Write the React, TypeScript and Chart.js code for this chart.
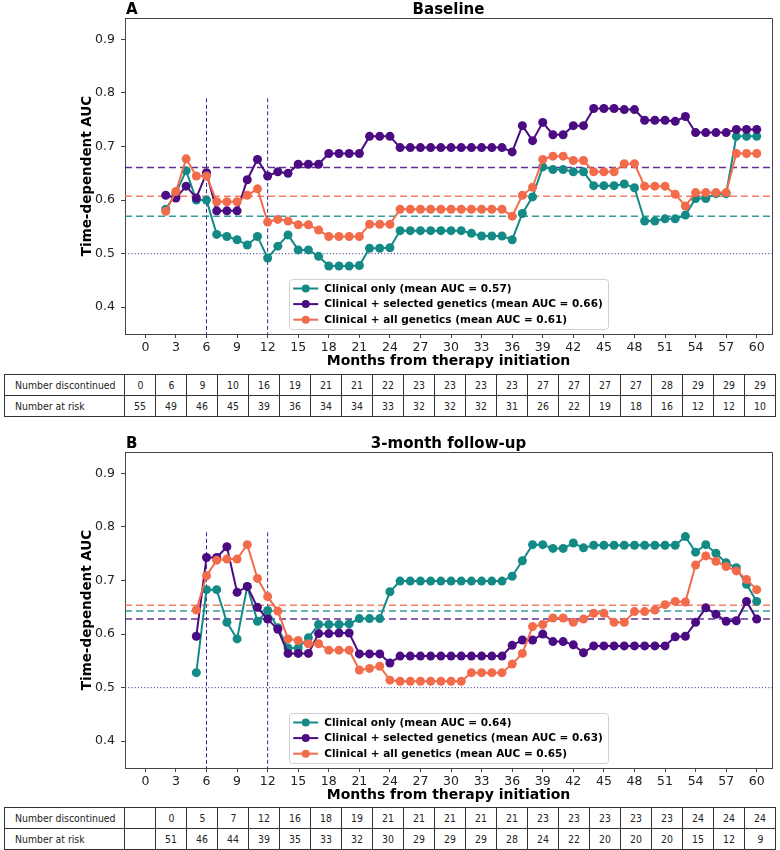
import React, { useEffect, useRef } from "react";
import { Chart, registerables } from "chart.js";
Chart.register(...registerables);

const FONT = "'DejaVu Sans', 'Noto Sans', sans-serif";
const TABLE_FONT = "'DejaVu Sans', sans-serif";

const COLORS = ["#148a87", "#4b0b82", "#f26b4b"];

const xTickLabels = [0, 3, 6, 9, 12, 15, 18, 21, 24, 27, 30, 33, 36, 39, 42, 45, 48, 51, 54, 57, 60];
const yTickLabels = [0.4, 0.5, 0.6, 0.7, 0.8, 0.9];
const milestones = [6, 12];
const milestoneTop = 0.79;
const chanceLevel = 0.5;

// ---------- Panel A: Baseline ----------
const monthsA = [2, 3, 4, 5, 6, 7, 8, 9, 10, 11, 12, 13, 14, 15, 16, 17, 18, 19, 20, 21, 22, 23, 24, 25, 26, 27, 28, 29, 30, 31, 32, 33, 34, 35, 36, 37, 38, 39, 40, 41, 42, 43, 44, 45, 46, 47, 48, 49, 50, 51, 52, 53, 54, 55, 56, 57, 58, 59, 60];
const clinicalA = [0.583, 0.613, 0.655, 0.600, 0.600, 0.536, 0.532, 0.526, 0.516, 0.532, 0.492, 0.514, 0.535, 0.507, 0.507, 0.495, 0.477, 0.477, 0.477, 0.478, 0.510, 0.510, 0.511, 0.543, 0.543, 0.543, 0.543, 0.543, 0.543, 0.543, 0.538, 0.533, 0.533, 0.533, 0.526, 0.575, 0.606, 0.662, 0.657, 0.657, 0.653, 0.653, 0.627, 0.627, 0.627, 0.630, 0.623, 0.561, 0.561, 0.565, 0.565, 0.572, 0.603, 0.603, 0.612, 0.612, 0.719, 0.719, 0.719];
const selectedA = [0.609, 0.604, 0.626, 0.604, 0.651, 0.580, 0.580, 0.580, 0.638, 0.676, 0.645, 0.653, 0.650, 0.667, 0.667, 0.667, 0.687, 0.687, 0.687, 0.687, 0.719, 0.719, 0.719, 0.698, 0.698, 0.698, 0.698, 0.698, 0.698, 0.698, 0.698, 0.698, 0.698, 0.698, 0.690, 0.739, 0.711, 0.745, 0.722, 0.722, 0.739, 0.739, 0.771, 0.771, 0.771, 0.769, 0.769, 0.749, 0.749, 0.749, 0.747, 0.756, 0.726, 0.726, 0.726, 0.726, 0.732, 0.732, 0.732];
const allGenA = [0.579, 0.616, 0.677, 0.645, 0.645, 0.597, 0.597, 0.597, 0.609, 0.621, 0.559, 0.564, 0.561, 0.554, 0.554, 0.544, 0.532, 0.532, 0.532, 0.532, 0.555, 0.555, 0.555, 0.583, 0.583, 0.583, 0.583, 0.583, 0.583, 0.583, 0.583, 0.583, 0.583, 0.583, 0.570, 0.609, 0.624, 0.676, 0.682, 0.682, 0.674, 0.674, 0.653, 0.653, 0.653, 0.668, 0.668, 0.626, 0.626, 0.626, 0.611, 0.589, 0.614, 0.614, 0.614, 0.614, 0.687, 0.687, 0.687];
const meansA = [0.570, 0.661, 0.607];
const labelsA = [
  "Clinical only (mean AUC = 0.57)",
  "Clinical + selected genetics (mean AUC = 0.66)",
  "Clinical + all genetics (mean AUC = 0.61)",
];
const discontinuedA = ["0", "6", "9", "10", "16", "19", "21", "21", "22", "23", "23", "23", "23", "27", "27", "27", "27", "28", "29", "29", "29"];
const atRiskA = ["55", "49", "46", "45", "39", "36", "34", "34", "33", "32", "32", "32", "31", "26", "22", "19", "18", "16", "12", "12", "10"];

// ---------- Panel B: 3-month follow-up ----------
const monthsB = [5, 6, 7, 8, 9, 10, 11, 12, 13, 14, 15, 16, 17, 18, 19, 20, 21, 22, 23, 24, 25, 26, 27, 28, 29, 30, 31, 32, 33, 34, 35, 36, 37, 38, 39, 40, 41, 42, 43, 44, 45, 46, 47, 48, 49, 50, 51, 52, 53, 54, 55, 56, 57, 58, 59, 60];
const clinicalB = [0.528, 0.683, 0.683, 0.622, 0.591, 0.689, 0.624, 0.644, 0.612, 0.574, 0.574, 0.593, 0.618, 0.618, 0.618, 0.619, 0.629, 0.629, 0.629, 0.679, 0.699, 0.699, 0.699, 0.699, 0.699, 0.699, 0.699, 0.699, 0.699, 0.699, 0.699, 0.708, 0.737, 0.767, 0.767, 0.760, 0.760, 0.770, 0.761, 0.766, 0.766, 0.766, 0.766, 0.766, 0.766, 0.766, 0.766, 0.766, 0.782, 0.753, 0.767, 0.751, 0.733, 0.724, 0.693, 0.661];
const selectedB = [0.596, 0.743, 0.743, 0.763, 0.678, 0.689, 0.650, 0.628, 0.609, 0.564, 0.564, 0.564, 0.601, 0.601, 0.602, 0.602, 0.563, 0.563, 0.563, 0.546, 0.559, 0.559, 0.559, 0.559, 0.559, 0.559, 0.559, 0.559, 0.559, 0.559, 0.559, 0.579, 0.589, 0.589, 0.600, 0.586, 0.586, 0.580, 0.565, 0.578, 0.578, 0.578, 0.578, 0.578, 0.578, 0.578, 0.578, 0.595, 0.596, 0.622, 0.649, 0.637, 0.624, 0.625, 0.661, 0.628];
const allGenB = [0.645, 0.709, 0.738, 0.740, 0.740, 0.767, 0.704, 0.670, 0.643, 0.591, 0.588, 0.582, 0.582, 0.570, 0.570, 0.570, 0.533, 0.536, 0.540, 0.514, 0.512, 0.512, 0.512, 0.512, 0.512, 0.512, 0.512, 0.528, 0.528, 0.528, 0.528, 0.544, 0.564, 0.614, 0.618, 0.630, 0.630, 0.622, 0.628, 0.639, 0.639, 0.622, 0.622, 0.642, 0.642, 0.645, 0.655, 0.661, 0.660, 0.729, 0.746, 0.736, 0.726, 0.718, 0.702, 0.683];
const meansB = [0.643, 0.628, 0.654];
const labelsB = [
  "Clinical only (mean AUC = 0.64)",
  "Clinical + selected genetics (mean AUC = 0.63)",
  "Clinical + all genetics (mean AUC = 0.65)",
];
const discontinuedB = ["", "0", "5", "7", "12", "16", "18", "19", "21", "21", "21", "21", "21", "23", "23", "23", "23", "23", "24", "24", "24"];
const atRiskB = ["", "51", "46", "44", "39", "35", "33", "32", "30", "29", "29", "29", "28", "24", "22", "20", "20", "20", "15", "12", "9"];

const X_MIN = -2;
const X_MAX = 61.5;
const Y_MIN = 0.35;
const Y_MAX = 0.94;

function withAlpha(hex: string, a: number) {
  const n = parseInt(hex.slice(1), 16);
  return `rgba(${(n >> 16) & 255},${(n >> 8) & 255},${n & 255},${a})`;
}

function makeOverlay(letter: string, title: string, means: number[], labels: string[]) {
  return {
    id: "overlay" + letter,
    beforeDatasetsDraw(chart: any) {
      const { ctx, chartArea: a, scales } = chart;
      const x = scales.x;
      const y = scales.y;
      ctx.save();
      ctx.beginPath();
      ctx.rect(a.left, a.top, a.right - a.left, a.bottom - a.top);
      ctx.clip();
      ctx.lineWidth = 1;
      ctx.setLineDash([1.2, 2]);
      ctx.strokeStyle = "#4a3f9e";
      const yc = y.getPixelForValue(chanceLevel);
      ctx.beginPath();
      ctx.moveTo(a.left, yc);
      ctx.lineTo(a.right, yc);
      ctx.stroke();
      ctx.setLineDash([4, 2.5]);
      ctx.strokeStyle = "#2c2a8f";
      milestones.forEach((m) => {
        const px = x.getPixelForValue(m);
        ctx.beginPath();
        ctx.moveTo(px, y.getPixelForValue(milestoneTop));
        ctx.lineTo(px, a.bottom);
        ctx.stroke();
      });
      ctx.lineWidth = 1.5;
      ctx.setLineDash([7, 4]);
      means.forEach((m, i) => {
        ctx.strokeStyle = withAlpha(COLORS[i], 0.85);
        const py = y.getPixelForValue(m);
        ctx.beginPath();
        ctx.moveTo(a.left, py);
        ctx.lineTo(a.right, py);
        ctx.stroke();
      });
      ctx.restore();
    },
    afterDraw(chart: any) {
      const { ctx, chartArea: a } = chart;
      ctx.save();
      ctx.strokeStyle = "#444";
      ctx.lineWidth = 1;
      ctx.beginPath();
      ctx.moveTo(a.left, Math.round(a.top) + 0.5);
      ctx.lineTo(Math.round(a.right) + 0.5, Math.round(a.top) + 0.5);
      ctx.lineTo(Math.round(a.right) + 0.5, a.bottom);
      ctx.stroke();
      ctx.fillStyle = "#000";
      ctx.font = `bold 15px ${FONT}`;
      ctx.textBaseline = "alphabetic";
      ctx.textAlign = "left";
      ctx.fillText(letter, a.left + 1, a.top - 4);
      ctx.textAlign = "center";
      ctx.fillText(title, (a.left + a.right) / 2, a.top - 4);
      ctx.font = `bold 10.5px ${FONT}`;
      let maxW = 0;
      labels.forEach((l) => (maxW = Math.max(maxW, ctx.measureText(l).width)));
      const boxW = 4 + 25 + 6 + maxW + 5;
      const boxH = 50;
      const bx = (a.left + a.right) / 2 - boxW / 2;
      const by = a.bottom - 5 - boxH;
      ctx.fillStyle = "rgba(255,255,255,0.85)";
      ctx.strokeStyle = "#d0d0d0";
      ctx.lineWidth = 1;
      ctx.beginPath();
      ctx.roundRect(Math.round(bx) + 0.5, Math.round(by) + 0.5, Math.round(boxW), Math.round(boxH), 3);
      ctx.fill();
      ctx.stroke();
      labels.forEach((l, i) => {
        const ry = by + 9.5 + i * 15.6;
        ctx.strokeStyle = COLORS[i];
        ctx.lineWidth = 2;
        ctx.beginPath();
        ctx.moveTo(bx + 4, ry);
        ctx.lineTo(bx + 29, ry);
        ctx.stroke();
        ctx.fillStyle = COLORS[i];
        ctx.beginPath();
        ctx.arc(bx + 16.5, ry, 4, 0, Math.PI * 2);
        ctx.fill();
        ctx.fillStyle = "#000";
        ctx.textAlign = "left";
        ctx.textBaseline = "middle";
        ctx.fillText(l, bx + 35, ry + 0.5);
      });
      ctx.restore();
    },
  };
}

type PanelProps = {
  top: number;
  letter: string;
  title: string;
  months: number[];
  series: number[][];
  means: number[];
  labels: string[];
};

function Panel({ top, letter, title, months, series, means, labels }: PanelProps) {
  const ref = useRef<HTMLCanvasElement>(null);
  useEffect(() => {
    const chart = new Chart(ref.current as HTMLCanvasElement, {
      type: "line",
      data: {
        datasets: series.map((vals, i) => ({
          label: labels[i],
          data: months.map((m, j) => ({ x: m, y: vals[j] })),
          borderColor: COLORS[i],
          backgroundColor: COLORS[i],
          pointBackgroundColor: COLORS[i],
          pointBorderColor: COLORS[i],
          pointBorderWidth: 0,
          pointRadius: 4.5,
          borderWidth: 2,
          tension: 0,
          order: 2 - i,
        })),
      },
      options: {
        responsive: false,
        animation: false,
        devicePixelRatio: 1,
        events: [],
        layout: { padding: { left: 79, right: 8, top: 18, bottom: 0 } },
        plugins: { legend: { display: false }, tooltip: { enabled: false }, title: { display: false } },
        scales: {
          x: {
            type: "linear",
            min: X_MIN,
            max: X_MAX,
            afterBuildTicks: (s: any) => {
              s.ticks = xTickLabels.map((v) => ({ value: v }));
            },
            afterFit: (s: any) => {
              s.height = 38;
            },
            grid: { drawOnChartArea: false, tickLength: 4, color: "#444" },
            border: { color: "#444", width: 1 },
            ticks: {
              font: { family: FONT, size: 12.5 },
              color: "#222",
              padding: 2,
              maxRotation: 0,
              autoSkip: false,
              callback: (v: any) => String(v),
            },
            title: {
              display: true,
              text: "Months from therapy initiation",
              font: { family: FONT, size: 14, weight: "bold" },
              color: "#000",
              padding: { top: 0, bottom: 2 },
            },
          },
          y: {
            type: "linear",
            min: Y_MIN,
            max: Y_MAX,
            afterBuildTicks: (s: any) => {
              s.ticks = yTickLabels.map((v) => ({ value: v }));
            },
            afterFit: (s: any) => {
              s.width = 46;
            },
            grid: { drawOnChartArea: false, tickLength: 4, color: "#444" },
            border: { color: "#444", width: 1 },
            ticks: {
              font: { family: FONT, size: 12.5 },
              color: "#222",
              padding: 6,
              callback: (v: any) => Number(v).toFixed(1),
            },
            title: {
              display: true,
              text: "Time-dependent AUC",
              font: { family: FONT, size: 13.5, weight: "bold" },
              color: "#000",
              padding: { top: 0, bottom: 0 },
            },
          },
        },
      },
      plugins: [makeOverlay(letter, title, means, labels)],
    } as any);
    return () => chart.destroy();
  }, []);
  return (
    <canvas
      ref={ref}
      width={780}
      height={372}
      style={{ position: "absolute", left: 0, top, width: 780, height: 372 }}
    />
  );
}

function Narrow({ text, origin }: { text: string; origin: string }) {
  return (
    <span style={{ display: "inline-block", transform: "scaleX(0.85)", transformOrigin: origin }}>{text}</span>
  );
}

function RiskTable({ top, discontinued, atRisk }: { top: number; discontinued: string[]; atRisk: string[] }) {
  const cell: React.CSSProperties = {
    border: "1px solid #333",
    textAlign: "center",
    padding: 0,
    height: 20,
    fontFamily: TABLE_FONT,
    fontSize: 11,
    color: "#222",
    overflow: "visible",
    whiteSpace: "nowrap",
  };
  const head: React.CSSProperties = { ...cell, textAlign: "left", paddingLeft: 10 };
  return (
    <table
      style={{
        position: "absolute",
        left: 4,
        top,
        width: 772,
        borderCollapse: "collapse",
        tableLayout: "fixed",
        background: "#fff",
      }}
    >
      <colgroup>
        <col style={{ width: 120 }} />
        {discontinued.map((_, i) => (
          <col key={i} />
        ))}
      </colgroup>
      <tbody>
        <tr>
          <td style={head}><Narrow text="Number discontinued" origin="0% 50%" /></td>
          {discontinued.map((v, i) => (
            <td key={i} style={cell}><Narrow text={v} origin="50% 50%" /></td>
          ))}
        </tr>
        <tr>
          <td style={head}><Narrow text="Number at risk" origin="0% 50%" /></td>
          {atRisk.map((v, i) => (
            <td key={i} style={cell}><Narrow text={v} origin="50% 50%" /></td>
          ))}
        </tr>
      </tbody>
    </table>
  );
}

export default function App() {
  return (
    <div style={{ position: "absolute", left: 0, top: 0, width: 780, height: 850, background: "#fff", overflow: "hidden" }}>
      <Panel
        top={0}
        letter="A"
        title="Baseline"
        months={monthsA}
        series={[clinicalA, selectedA, allGenA]}
        means={meansA}
        labels={labelsA}
      />
      <RiskTable top={374} discontinued={discontinuedA} atRisk={atRiskA} />
      <Panel
        top={434}
        letter="B"
        title="3-month follow-up"
        months={monthsB}
        series={[clinicalB, selectedB, allGenB]}
        means={meansB}
        labels={labelsB}
      />
      <RiskTable top={807} discontinued={discontinuedB} atRisk={atRiskB} />
    </div>
  );
}
